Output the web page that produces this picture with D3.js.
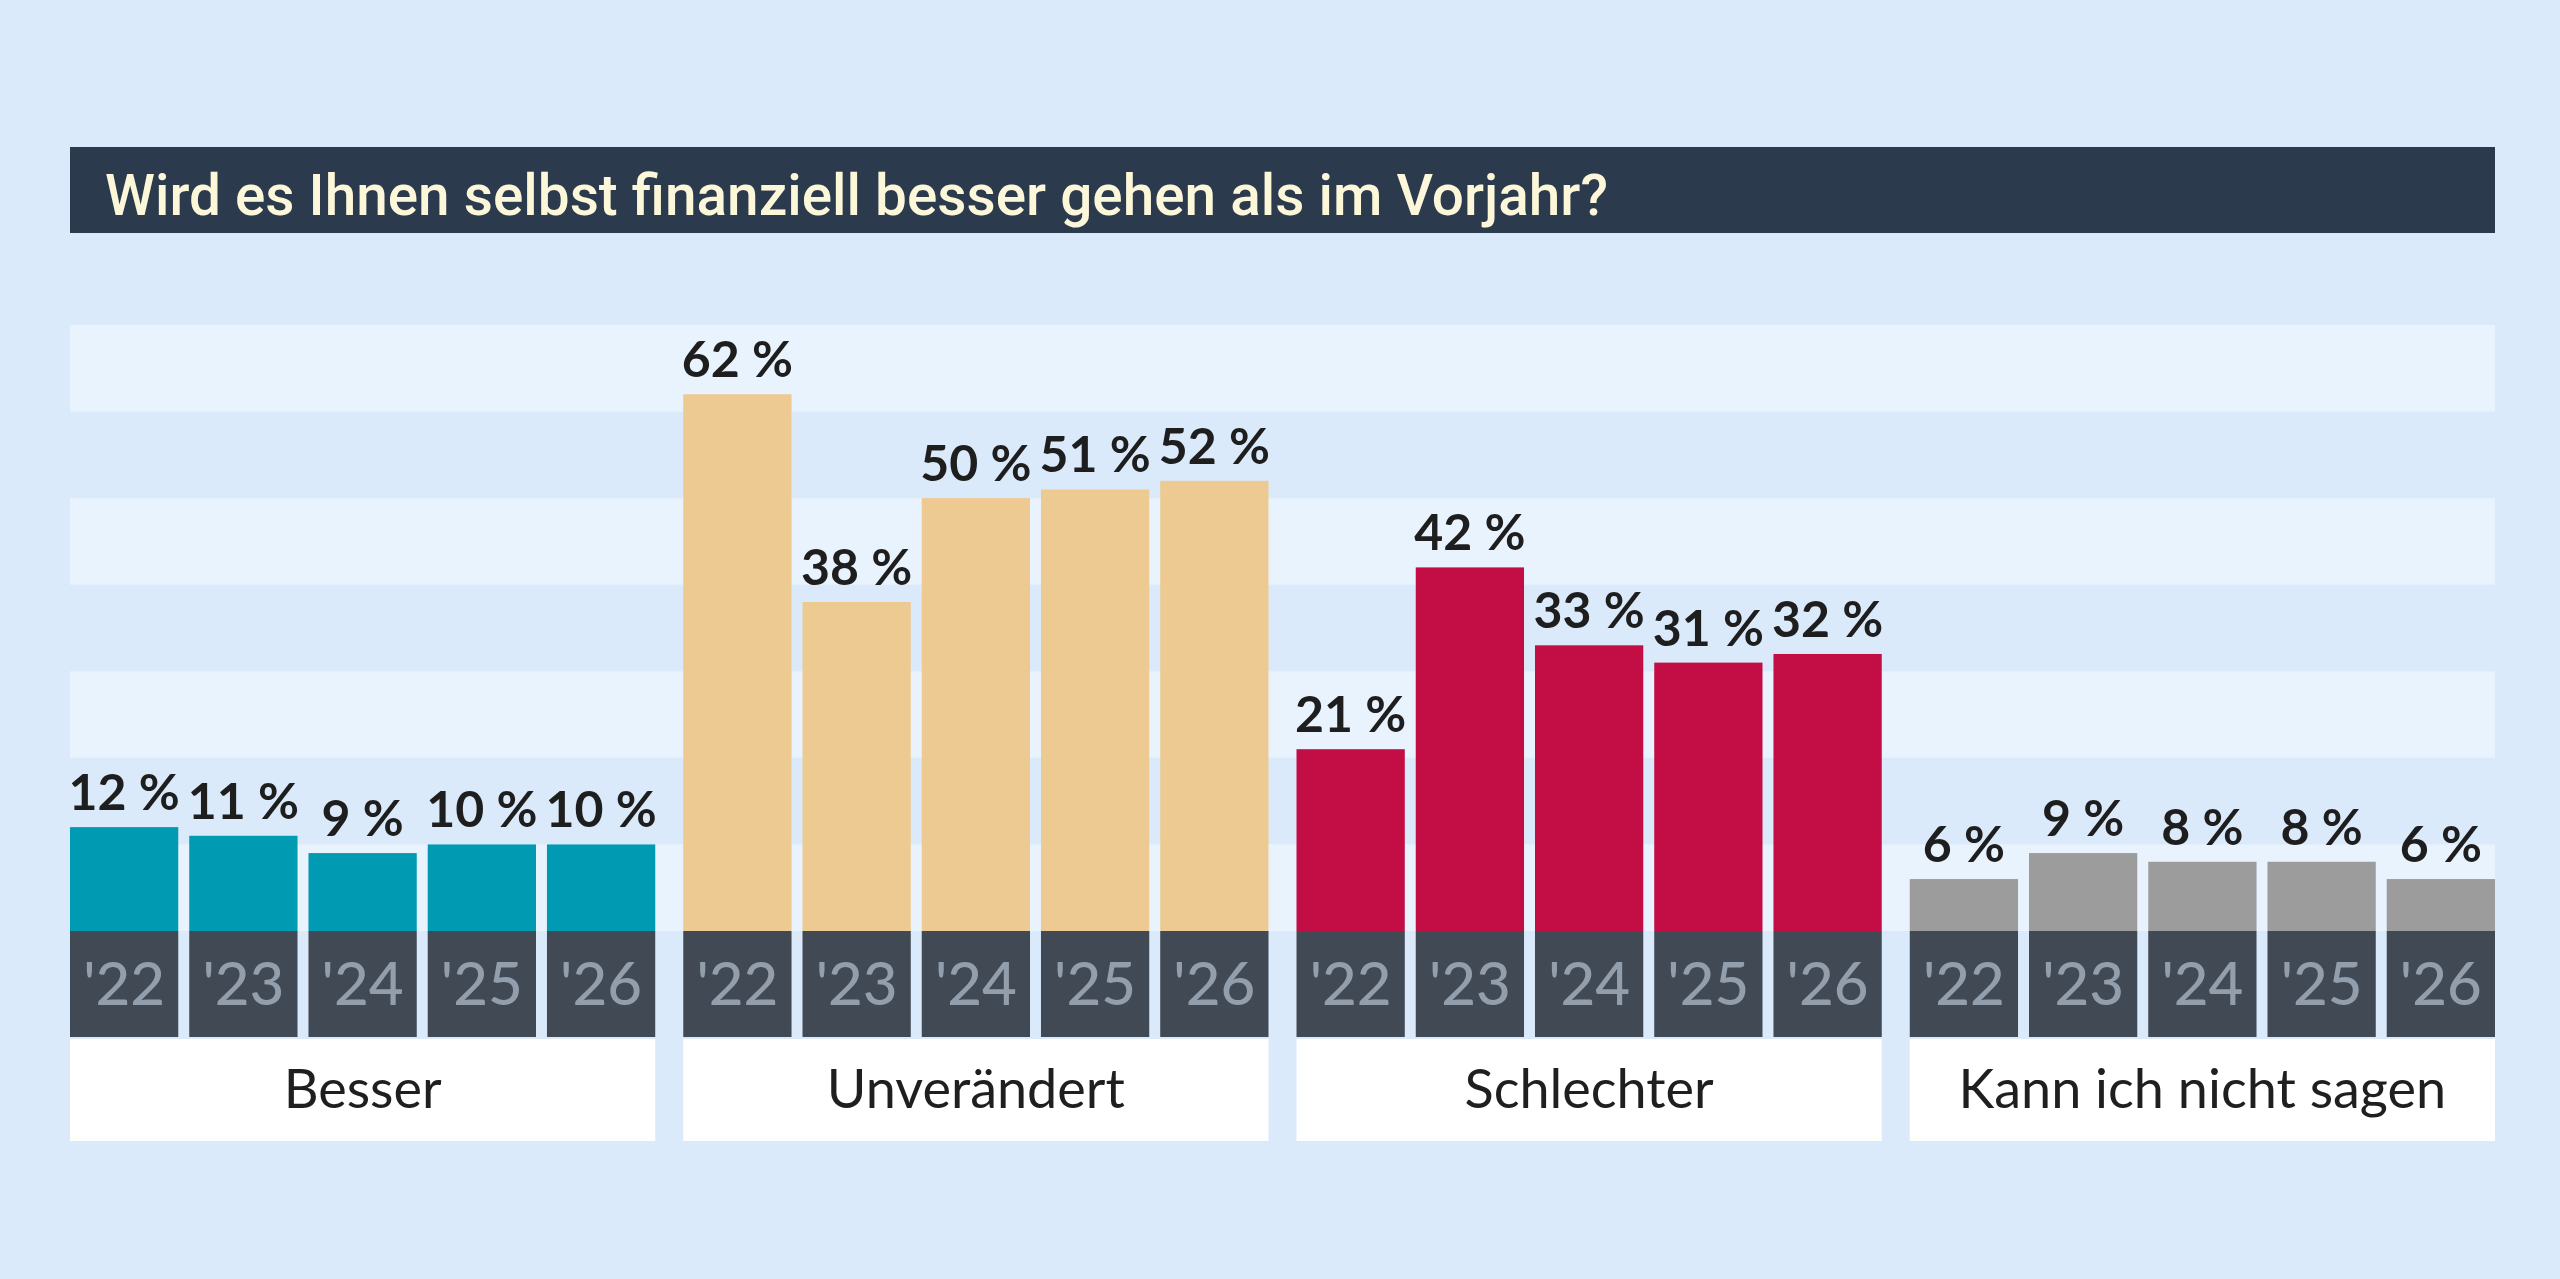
<!DOCTYPE html>
<html>
<head>
<meta charset="utf-8">
<script src="https://cdn.jsdelivr.net/npm/d3@7"></script>
<style>
  html, body { margin: 0; padding: 0; background: #dbeafa; }
  svg { display: block; }
</style>
</head>
<body>
<div id="chart"></div>
<script>
const title = "Wird es Ihnen selbst finanziell besser gehen als im Vorjahr?";
const categories = ["Besser", "Unverändert", "Schlechter", "Kann ich nicht sagen"];
const years = ["'22", "'23", "'24", "'25", "'26"];
const besser = [12, 11, 9, 10, 10];
const unveraendert = [62, 38, 50, 51, 52];
const schlechter = [21, 42, 33, 31, 32];
const kannNicht = [6, 9, 8, 8, 6];
const colors = ["#009ab3", "#edca91", "#c20e45", "#9c9c9c"];

window.onload = function() {
  const width = 2560, height = 1279;
  const series = [besser, unveraendert, schlechter, kannNicht];
  const data = categories.map((c, i) => ({
    category: c,
    color: colors[i],
    values: years.map((y, j) => ({ year: y, value: series[i][j] }))
  }));

  const svg = d3.select("#chart").append("svg")
      .attr("width", width)
      .attr("height", height);

  svg.append("rect")
      .attr("width", width)
      .attr("height", height)
      .attr("fill", "#dbeafa");

  // scales
  const left = 70, right = 2495;
  const xGroup = d3.scaleBand().domain(categories).range([left, right]).paddingInner(0.0457);
  const xYear = d3.scaleBand().domain(years).range([0, xGroup.bandwidth()]).paddingInner(0.092);
  const y = d3.scaleLinear().domain([0, 70]).range([931, 325]);

  // title bar
  svg.append("rect")
      .attr("x", left).attr("y", 147)
      .attr("width", right - left).attr("height", 86)
      .attr("fill", "#2c3a4e");
  svg.append("text")
      .attr("x", 105).attr("y", 215)
      .attr("fill", "#fdf7da")
      .attr("font-family", "Roboto, sans-serif")
      .attr("font-weight", 500)
      .attr("font-size", 58)
      .attr("textLength", 1503)
      .attr("lengthAdjust", "spacingAndGlyphs")
      .text(title);

  // light stripes every other 10 %
  svg.append("g").selectAll("rect")
    .data([0, 20, 40, 60])
    .join("rect")
      .attr("x", left)
      .attr("width", right - left)
      .attr("y", d => y(d + 10))
      .attr("height", d => y(d) - y(d + 10))
      .attr("fill", "#e8f3fe");

  const group = svg.append("g").selectAll("g")
    .data(data)
    .join("g")
      .attr("transform", d => `translate(${xGroup(d.category)},0)`);

  // category label box
  group.append("rect")
      .attr("x", 0).attr("y", 1039)
      .attr("width", xGroup.bandwidth()).attr("height", 102)
      .attr("fill", "#ffffff");
  group.append("text")
      .attr("x", xGroup.bandwidth() / 2).attr("y", 1108)
      .attr("text-anchor", "middle")
      .attr("font-family", "Lato, sans-serif")
      .attr("font-size", 54)
      .attr("fill", "#1f1f1f")
      .text(d => d.category);

  const bar = group.selectAll("g.bar")
    .data(d => d.values.map(v => Object.assign({ color: d.color }, v)))
    .join("g")
      .attr("class", "bar")
      .attr("transform", d => `translate(${xYear(d.year)},0)`);

  bar.append("rect")
      .attr("y", d => y(d.value))
      .attr("width", xYear.bandwidth())
      .attr("height", d => y(0) - y(d.value))
      .attr("fill", d => d.color);

  bar.append("text")
      .attr("x", xYear.bandwidth() / 2)
      .attr("y", d => y(d.value) - 17)
      .attr("text-anchor", "middle")
      .attr("font-family", "Lato, sans-serif")
      .attr("font-weight", "bold")
      .attr("font-size", 50)
      .attr("fill", "#1e1e1e")
      .text(d => d.value + " %");

  // year boxes
  bar.append("rect")
      .attr("y", y(0))
      .attr("width", xYear.bandwidth())
      .attr("height", 106)
      .attr("fill", "#414955");
  bar.append("text")
      .attr("x", xYear.bandwidth() / 2)
      .attr("y", 1005)
      .attr("text-anchor", "middle")
      .attr("font-family", "Lato, sans-serif")
      .attr("font-weight", 500)
      .attr("font-size", 60)
      .attr("fill", "#929eac")
      .text(d => d.year);
};
</script>
</body>
</html>
